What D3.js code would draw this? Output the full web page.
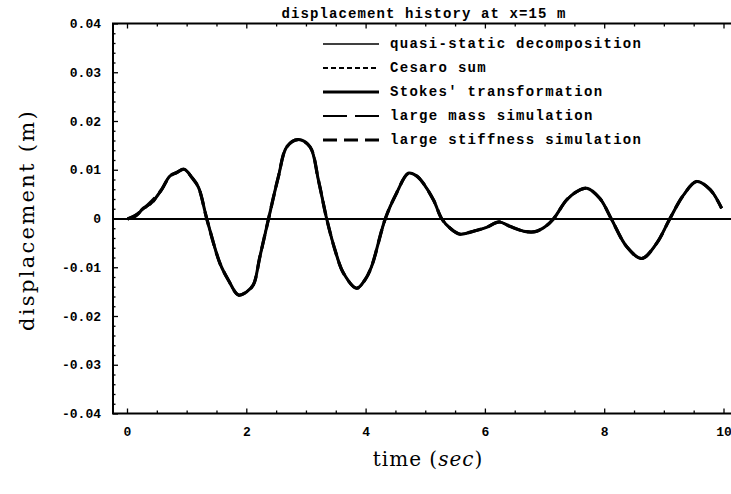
<!DOCTYPE html>
<html><head><meta charset="utf-8">
<script src="https://cdn.jsdelivr.net/npm/d3@7"></script>
<style>body{margin:0;background:#fff}svg{display:block}</style>
</head><body>
<svg id="chart" width="731" height="494"></svg>
<script>
const title = "displacement history at x=15 m";
const xLabel = "time";
const xUnit = "sec";
const yLabel = "displacement (m)";
const xTicks = [0, 2, 4, 6, 8, 10];
const yTicks = [-0.04, -0.03, -0.02, -0.01, 0, 0.01, 0.02, 0.03, 0.04];
const yTickLabels = ["-0.04", "-0.03", "-0.02", "-0.01", "0", "0.01", "0.02", "0.03", "0.04"];
const seriesNames = ["quasi-static decomposition", "Cesaro sum", "Stokes' transformation", "large mass simulation", "large stiffness simulation"];

const time = [0, 0.15, 0.26, 0.41, 0.57, 0.71, 0.82, 0.95, 1.08, 1.19, 1.33, 1.55, 1.69, 1.86, 2.0, 2.11, 2.22, 2.36, 2.53, 2.67, 2.86, 3.06, 3.2, 3.34, 3.48, 3.62, 3.84, 3.98, 4.09, 4.32, 4.51, 4.71, 4.85, 4.96, 5.13, 5.27, 5.41, 5.57, 5.8, 6.02, 6.23, 6.41, 6.64, 6.83, 7.0, 7.14, 7.36, 7.53, 7.7, 7.92, 8.12, 8.37, 8.62, 8.87, 9.09, 9.32, 9.54, 9.77, 9.96];
const quasiStatic = [0, 0.0010, 0.0019, 0.0036, 0.0058, 0.0088, 0.0095, 0.0102, 0.0085, 0.0065, 0.0, -0.0091, -0.0125, -0.0156, -0.0149, -0.0135, -0.0077, -0.0002, 0.0087, 0.0148, 0.0163, 0.0148, 0.0080, 0.0, -0.0064, -0.0111, -0.0142, -0.0125, -0.0098, 0.0, 0.0053, 0.0094, 0.0088, 0.0073, 0.0039, 0.0, -0.0019, -0.0031, -0.0025, -0.0017, -0.0006, -0.0015, -0.0025, -0.0026, -0.0016, 0.0, 0.0039, 0.0056, 0.0063, 0.0042, -0.0002, -0.0057, -0.0081, -0.0050, 0.0, 0.0049, 0.0077, 0.0060, 0.0022];
const cesaroSum = [0, 0.0007, 0.0023, 0.0032, 0.0061, 0.0088, 0.0095, 0.0102, 0.0085, 0.0065, 0.0, -0.0091, -0.0125, -0.0156, -0.0149, -0.0135, -0.0077, -0.0002, 0.0087, 0.0148, 0.0163, 0.0148, 0.0080, 0.0, -0.0064, -0.0111, -0.0142, -0.0125, -0.0098, 0.0, 0.0053, 0.0094, 0.0088, 0.0073, 0.0039, 0.0, -0.0019, -0.0031, -0.0025, -0.0017, -0.0006, -0.0015, -0.0025, -0.0026, -0.0016, 0.0, 0.0039, 0.0056, 0.0063, 0.0042, -0.0002, -0.0057, -0.0081, -0.0050, 0.0, 0.0049, 0.0077, 0.0060, 0.0022];
const stokes = [0, 0.0008, 0.0021, 0.0034, 0.0060, 0.0088, 0.0095, 0.0102, 0.0085, 0.0065, 0.0, -0.0091, -0.0125, -0.0156, -0.0149, -0.0135, -0.0077, -0.0002, 0.0087, 0.0148, 0.0163, 0.0148, 0.0080, 0.0, -0.0064, -0.0111, -0.0142, -0.0125, -0.0098, 0.0, 0.0053, 0.0094, 0.0088, 0.0073, 0.0039, 0.0, -0.0019, -0.0031, -0.0025, -0.0017, -0.0006, -0.0015, -0.0025, -0.0026, -0.0016, 0.0, 0.0039, 0.0056, 0.0063, 0.0042, -0.0002, -0.0057, -0.0081, -0.0050, 0.0, 0.0049, 0.0077, 0.0060, 0.0022];
const largeMass = [0, 0.0006, 0.0022, 0.0035, 0.0059, 0.0088, 0.0095, 0.0102, 0.0085, 0.0065, 0.0, -0.0091, -0.0125, -0.0156, -0.0149, -0.0135, -0.0077, -0.0002, 0.0087, 0.0148, 0.0163, 0.0148, 0.0080, 0.0, -0.0064, -0.0111, -0.0142, -0.0125, -0.0098, 0.0, 0.0053, 0.0094, 0.0088, 0.0073, 0.0039, 0.0, -0.0019, -0.0031, -0.0025, -0.0017, -0.0006, -0.0015, -0.0025, -0.0026, -0.0016, 0.0, 0.0039, 0.0056, 0.0063, 0.0042, -0.0002, -0.0057, -0.0081, -0.0050, 0.0, 0.0049, 0.0077, 0.0060, 0.0022];
const largeStiffness = [0, 0.0009, 0.0020, 0.0037, 0.0060, 0.0088, 0.0095, 0.0102, 0.0085, 0.0065, 0.0, -0.0091, -0.0125, -0.0156, -0.0149, -0.0135, -0.0077, -0.0002, 0.0087, 0.0148, 0.0163, 0.0148, 0.0080, 0.0, -0.0064, -0.0111, -0.0142, -0.0125, -0.0098, 0.0, 0.0053, 0.0094, 0.0088, 0.0073, 0.0039, 0.0, -0.0019, -0.0031, -0.0025, -0.0017, -0.0006, -0.0015, -0.0025, -0.0026, -0.0016, 0.0, 0.0039, 0.0056, 0.0063, 0.0042, -0.0002, -0.0057, -0.0081, -0.0050, 0.0, 0.0049, 0.0077, 0.0060, 0.0022];

const seriesValues = [quasiStatic, cesaroSum, stokes, largeMass, largeStiffness];
const seriesStyle = [
  {w: 1.3, dash: null},
  {w: 2, dash: "5,3"},
  {w: 3, dash: null},
  {w: 2.2, dash: "24,8"},
  {w: 3.2, dash: "14,7"}
];

const svg = d3.select("#chart");
const frame = {left: 113, right: 731, top: 23.5, bottom: 413.5};
const x = d3.scaleLinear().domain([0, 10]).range([127.5, 724]);
const y = d3.scaleLinear().domain([-0.04, 0.04]).range([414, 24]);

const mono = "'Liberation Mono', 'DejaVu Sans Mono', monospace";
const serif = "'DejaVu Serif', 'Liberation Serif', serif";

// frame lines (right side cropped)
svg.append("path")
  .attr("d", `M${frame.right},${frame.top}H${frame.left}V${frame.bottom}H${frame.right}`)
  .attr("fill", "none").attr("stroke", "#000").attr("stroke-width", 2);

// frame ticks
const xMinor = d3.range(0, 10.01, 0.5);
const yMinor = d3.range(-0.04, 0.0401, 0.002);
const gT = svg.append("g").attr("stroke", "#000").attr("stroke-width", 1.3);
xMinor.forEach(t => {
  const major = xTicks.includes(Math.round(t * 100) / 100);
  const L = major ? 5 : 3;
  gT.append("line").attr("x1", x(t)).attr("x2", x(t)).attr("y1", frame.bottom).attr("y2", frame.bottom - L);
  gT.append("line").attr("x1", x(t)).attr("x2", x(t)).attr("y1", frame.top).attr("y2", frame.top + L);
});
yMinor.forEach(v => {
  const major = Math.abs(Math.round(v * 1000) % 10) === 0;
  const L = major ? 5 : 2.5;
  gT.append("line").attr("x1", frame.left).attr("x2", frame.left + L).attr("y1", y(v)).attr("y2", y(v));
});

// zero axis
svg.append("line").attr("x1", frame.left).attr("x2", frame.right)
  .attr("y1", y(0)).attr("y2", y(0)).attr("stroke", "#000").attr("stroke-width", 2);

// tick labels
svg.append("g").selectAll("text").data(yTicks).join("text")
  .attr("x", 101).attr("y", d => y(d) + 4)
  .attr("text-anchor", "end").attr("font-family", mono).attr("font-weight", "bold")
  .attr("font-size", 13).text((d, i) => yTickLabels[i]);
svg.append("g").selectAll("text").data(xTicks).join("text")
  .attr("x", d => x(d)).attr("y", 436)
  .attr("text-anchor", "middle").attr("font-family", mono).attr("font-weight", "bold")
  .attr("font-size", 13).text(d => d);

// title
svg.append("text").attr("x", 424).attr("y", 18).attr("text-anchor", "middle")
  .attr("font-family", mono).attr("font-weight", "bold").attr("font-size", 14)
  .attr("letter-spacing", 1.1).text(title);

// axis labels
svg.append("text").attr("transform", "translate(34,220) rotate(-90)")
  .attr("text-anchor", "middle").attr("font-family", serif).attr("font-size", 21)
  .attr("letter-spacing", 2.3).text(yLabel);
const xl = svg.append("text").attr("x", 428).attr("y", 466).attr("text-anchor", "middle")
  .attr("font-family", serif).attr("font-size", 20).attr("letter-spacing", 1);
xl.append("tspan").text(xLabel + " (");
xl.append("tspan").attr("font-style", "italic").text(xUnit);
xl.append("tspan").text(")");

// curves
const line = d3.line().x(d => x(d[0])).y(d => y(d[1])).curve(d3.curveCatmullRom.alpha(0.5));
const order = [2, 0, 1, 3, 4];
order.forEach(i => {
  const pts = time.map((t, k) => [t, seriesValues[i][k]]);
  svg.append("path").attr("d", line(pts)).attr("fill", "none").attr("stroke", "#000")
    .attr("stroke-width", seriesStyle[i].w).attr("stroke-dasharray", seriesStyle[i].dash)
    .attr("stroke-linejoin", "round");
});

// legend
const lg = svg.append("g");
seriesNames.forEach((name, i) => {
  const yy = 44 + i * 24;
  lg.append("line").attr("x1", 323).attr("x2", 379).attr("y1", yy).attr("y2", yy)
    .attr("stroke", "#000").attr("stroke-width", seriesStyle[i].w)
    .attr("stroke-dasharray", seriesStyle[i].dash);
  lg.append("text").attr("x", 390).attr("y", yy + 4).attr("font-family", mono)
    .attr("font-weight", "bold").attr("font-size", 14).attr("letter-spacing", 1.3).text(name);
});
</script>
</body></html>
